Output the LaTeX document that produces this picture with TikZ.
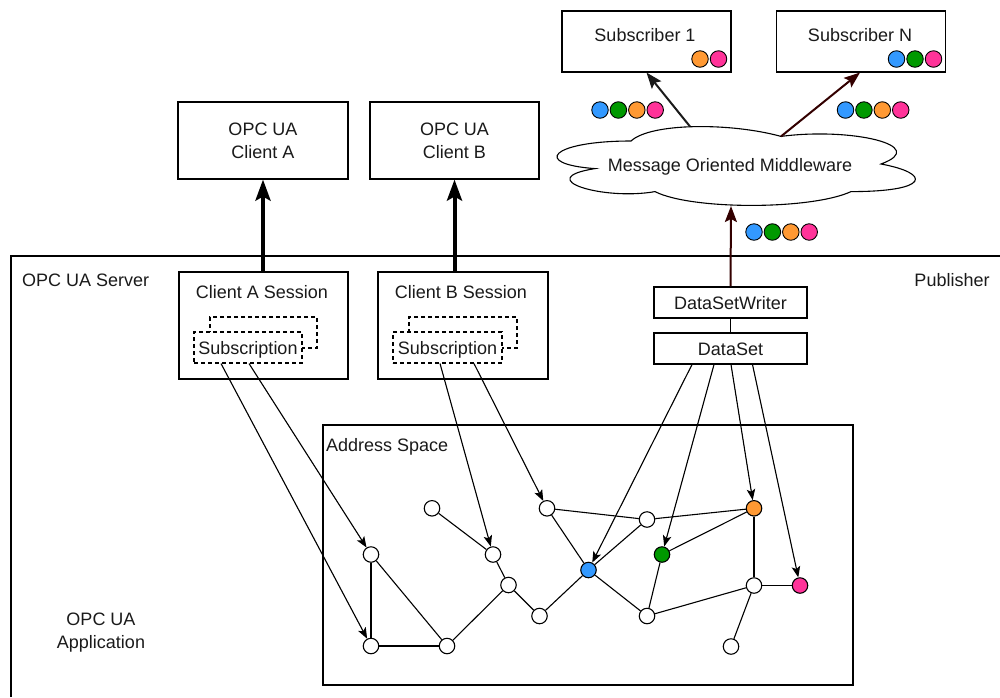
\documentclass[tikz,border=0pt]{standalone}
\usepackage{fontspec}
\setmainfont{Liberation Sans}
\usetikzlibrary{arrows.meta,calc}
\definecolor{dotblue}{HTML}{3399FF}
\definecolor{dotgreen}{HTML}{009900}
\definecolor{dotorange}{HTML}{FF9933}
\definecolor{dotpink}{HTML}{FF3399}
\definecolor{darkred}{HTML}{330000}
\definecolor{ink}{HTML}{1A1A1A}
\begin{document}
\begin{tikzpicture}[x=1pt,y=-1pt,
  font=\fontsize{18}{23}\selectfont, text=ink,
  box/.style={draw=black, line width=1.1pt, fill=white, inner sep=0pt, rectangle},
  oneline/.style={text height=13pt, text depth=0pt},
  txt/.style={inner sep=0pt, oneline},
  dashbox/.style={draw=black, line width=1.1pt, dash pattern=on 4pt off 3pt, inner sep=0pt, rectangle},
  gnode/.style={circle, draw=black, line width=1.1pt, fill=white, minimum size=15.5pt, inner sep=0pt},
  dot/.style={circle, draw=black, line width=0.9pt, minimum size=16.5pt, inner sep=0pt},
  edge/.style={line width=1.1pt},
  link/.style={line width=1.1pt, -{Stealth[length=11pt,width=8.5pt,inset=2.5pt]}},
  fat/.style={line width=4pt, -{Stealth[length=21pt,width=15pt,inset=4pt]}},
  feed/.style={line width=2pt, -{Stealth[length=16pt,width=12pt,inset=3pt]}}
]
\useasboundingbox (0,0) rectangle (1000,697);

% server frame (runs off the right and bottom)
\draw[line width=1.2pt] (11,697) -- (11,256) -- (1000,256);
\node[txt, anchor=west] (server) at (22,280) {OPC UA Server};
\node[txt] (pub) at (952,280) {Publisher};
\node[align=center, inner sep=0pt] (app) at (101,633) {OPC UA\\Application};

% address space
\node[box, fill=none, minimum width=530pt, minimum height=260pt] (aspace) at (588,555) {};
\node[txt, anchor=west] (aslabel) at (326,445) {Address Space};

% clients
\node[box, minimum width=170pt, minimum height=77pt, align=center] (clientA) at (263,140.5) {OPC UA\\Client A};
\node[box, minimum width=169pt, minimum height=77pt, align=center] (clientB) at (454.5,140.5) {OPC UA\\Client B};

% sessions with subscriptions
\node[box, minimum width=169pt, minimum height=107pt] (sessA) at (263.5,325.5) {};
\node[txt] (sessAlabel) at (262,292) {Client A Session};
\node[dashbox, minimum width=107pt, minimum height=31pt] (subAback) at (263.5,332.5) {};
\node[dashbox, fill=white, oneline, minimum width=108pt, minimum height=31pt] (subA) at (248,347.5) {Subscription};

\node[box, minimum width=170pt, minimum height=107pt] (sessB) at (463,325.5) {};
\node[txt] (sessBlabel) at (461,292) {Client B Session};
\node[dashbox, minimum width=108pt, minimum height=31pt] (subBback) at (463,332.5) {};
\node[dashbox, fill=white, oneline, minimum width=109pt, minimum height=31pt] (subB) at (447.5,347.5) {Subscription};

% publisher side
\node[box, oneline, minimum width=153pt, minimum height=31pt] (dsw) at (730.5,302.5) {DataSetWriter};
\node[box, oneline, minimum width=153pt, minimum height=31pt] (ds) at (730.5,348.5) {DataSet};
\draw[line width=1.1pt] (dsw.south) -- (ds.north);

% subscribers
\node[box, minimum width=169pt, minimum height=61pt] (sub1) at (646.5,41.5) {};
\node[txt] (sub1label) at (645,35) {Subscriber 1};
\node[dot, fill=dotorange] (s1o) at (700,59) {};
\node[dot, fill=dotpink] (s1p) at (718.5,59) {};
\node[box, minimum width=169pt, minimum height=61pt] (subN) at (861,41.5) {};
\node[txt] (subNlabel) at (860,35) {Subscriber N};
\node[dot, fill=dotblue] (sNb) at (896.5,59) {};
\node[dot, fill=dotgreen] (sNg) at (915,59) {};
\node[dot, fill=dotpink] (sNp) at (933.5,59) {};

% message oriented middleware cloud
\draw[line width=1.1pt, fill=white]
  (631,141) .. controls (551,141) and (531,164) .. (595,168.6)
  .. controls (531,178.7) and (603,200.8) .. (655,191.6)
  .. controls (691,210) and (811,210) .. (851,191.6)
  .. controls (931,191.6) and (931,173.2) .. (881,164)
  .. controls (931,145.6) and (851,127.2) .. (781,136.4)
  .. controls (731,122.6) and (651,122.6) .. (631,141) -- cycle;
\node[txt] (mom) at (730,165) {Message Oriented Middleware};
\coordinate (momS) at (731,206);
\coordinate (momW) at (690,126.5);
\coordinate (momE) at (781,136.4);

% message dots
\foreach \c [count=\i] in {dotblue,dotgreen,dotorange,dotpink} {
  \node[dot, fill=\c] (m1\i) at ({600+18.4*(\i-1)},110) {};
  \node[dot, fill=\c] (m2\i) at ({845.5+18.4*(\i-1)},110) {};
  \node[dot, fill=\c] (m3\i) at ({754+18.4*(\i-1)},232) {};
}

% publishing flow
\draw[feed, draw=darkred, fill=darkred] (dsw.north) -- (momS);
\draw[feed, draw=ink, fill=ink] (momW) -- (sub1.south);
\draw[feed, draw=darkred, fill=darkred] (momE) -- ([xshift=-1pt]subN.south);

% client connections
\draw[fat, draw=black, fill=black] (sessA.north -| clientA.south) -- (clientA.south);
\draw[fat, draw=black, fill=black] (sessB.north -| clientB.south) -- (clientB.south);

% address space nodes
\node[gnode] (n1) at (432,508.3) {};
\node[gnode] (n2) at (371,554.5) {};
\node[gnode] (n3) at (493,554.5) {};
\node[gnode] (n4) at (508.5,585) {};
\node[gnode] (n5) at (547,508.3) {};
\node[gnode] (n6) at (539.5,616) {};
\node[gnode, fill=dotblue] (n7) at (588.5,570) {};
\node[gnode] (n8) at (647,519.5) {};
\node[gnode, fill=dotgreen] (n9) at (662,554.5) {};
\node[gnode, fill=dotorange] (n10) at (754,508.3) {};
\node[gnode] (n11) at (647,616) {};
\node[gnode] (n12) at (754,585.5) {};
\node[gnode, fill=dotpink] (n13) at (800,585.5) {};
\node[gnode] (n14) at (731,646.5) {};
\node[gnode] (n15) at (371,646) {};
\node[gnode] (n16) at (447,646) {};

\foreach \a/\b in {n1/n3, n2/n15, n2/n16, n15/n16, n3/n4, n4/n16, n4/n6, n6/n7,
                   n5/n7, n5/n8, n7/n8, n7/n11, n8/n10, n10/n9, n9/n11,
                   n11/n12, n10/n12, n12/n13, n12/n14}
  \draw[edge] (\a) -- (\b);

% monitored items and published fields
\coordinate (a1) at ([xshift=-27pt]subA.south);
\coordinate (a2) at ([xshift=1pt]subA.south);
\coordinate (b1) at ([xshift=-7.5pt]subB.south);
\coordinate (b2) at ([xshift=26.5pt]subB.south);
\coordinate (d1) at ([xshift=-38.5pt]ds.south);
\coordinate (d2) at ([xshift=-16.5pt]ds.south);
\coordinate (d3) at ([xshift=0.5pt]ds.south);
\coordinate (d4) at ([xshift=22pt]ds.south);
\draw[link, fill=black] (a1) -- (n15);
\draw[link, fill=black] (a2) -- (n2);
\draw[link, fill=black] (b1) -- (n3);
\draw[link, fill=black] (b2) -- (n5);
\draw[link, fill=black] (d1) -- (n7);
\draw[link, fill=black] (d2) -- (n9);
\draw[link, fill=black] (d3) -- (n10);
\draw[link, fill=black] (d4) -- (n13);
\end{tikzpicture}
\end{document}
